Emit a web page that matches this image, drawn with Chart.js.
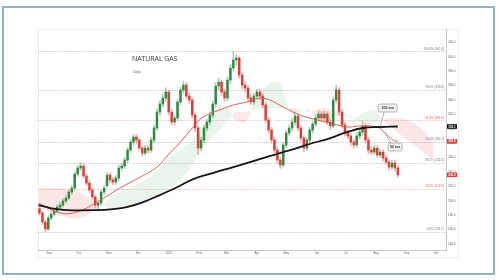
<!DOCTYPE html>
<html>
<head>
<meta charset="utf-8">
<script src="https://cdn.jsdelivr.net/npm/chart.js@4.4.1/dist/chart.umd.min.js"></script>
<style>
  html, body { margin: 0; padding: 0; background: #fff; }
  #frame { position: absolute; left: 2px; top: 6px; width: 493px; height: 269px; border: 2px solid #93b3bb; box-sizing: border-box; }
  #wrap { position: absolute; left: 0; top: 0; width: 500px; height: 280px; }
</style>
</head>
<body>
<div id="frame"></div>
<div id="wrap"><canvas id="chart" width="500" height="280"></canvas></div>
<script>
// x axis = days since 1 Sep 2024, one candle every 3 days
const firstDay = -10, dayStep = 3;

const monthDays = [0, 30, 61, 91, 122, 153, 181, 212, 242, 273, 303, 334, 365, 395];
const monthLabels = ['Sep', 'Oct', 'Nov', 'Dec', '2025', 'Feb', 'Mar', 'Apr', 'May', 'Jun', 'Jul', 'Aug', 'Sep', 'Oct'];
const yTicks = [140, 160, 180, 200, 220, 240, 260, 280, 300, 320, 340, 360, 380, 400, 420];

const opens = [189.0, 182.9, 170.4, 160.7, 176.0, 181.5, 185.7, 191.2, 194.0, 199.6,
    203.7, 212.1, 217.6, 237.1, 245.4, 248.2, 234.3, 224.6, 214.9, 205.1,
    194.0, 196.8, 212.1, 221.0, 235.7, 228.8, 226.0, 231.5, 245.4, 248.2,
    256.5, 270.4, 281.5, 288.5, 284.3, 273.2, 266.2, 273.2, 270.4, 284.3,
    301.0, 323.2, 334.3, 342.6, 351.0, 323.2, 309.3, 314.9, 337.1, 353.8,
    360.7, 345.4, 339.9, 319.0, 301.0, 273.2, 284.3, 301.0, 309.3, 319.0,
    334.3, 359.3, 364.9, 351.0, 342.6, 367.6, 384.3, 395.4, 398.2, 374.6,
    360.7, 356.5, 342.6, 337.1, 345.4, 351.0, 345.4, 332.9, 312.1, 298.2,
    284.3, 270.4, 256.5, 249.6, 277.4, 294.0, 301.0, 309.3, 317.6, 301.0,
    287.1, 273.2, 284.3, 298.2, 306.5, 314.9, 320.4, 314.9, 320.4, 309.3,
    303.8, 339.9, 353.8, 323.2, 305.1, 294.0, 289.9, 281.5, 277.4, 289.9,
    295.4, 303.8, 284.3, 270.4, 267.6, 273.2, 263.5, 267.6, 259.3, 253.7,
    246.8, 252.4, 245.4];
const highs = [192, 185, 173, 179, 185, 189, 194, 198, 203, 207,
    215, 221, 240, 249, 253, 251, 237, 228, 218, 208,
    200, 215, 221, 239, 239, 232, 235, 249, 252, 260,
    274, 285, 292, 292, 287, 276, 277, 277, 288, 305,
    328, 339, 347, 357, 354, 327, 319, 341, 358, 366,
    364, 350, 343, 322, 304, 288, 305, 313, 323, 339,
    364, 370, 368, 355, 372, 389, 407.4, 403, 401, 378,
    365, 360, 347, 349, 355, 355, 349, 336, 316, 302,
    288, 274, 260, 281, 298, 305, 314, 323, 321, 304,
    290, 288, 302, 310, 319, 325, 324, 325, 324, 313,
    344, 360, 357, 327, 309, 298, 293, 285, 294, 300,
    310, 307, 288, 275, 277, 277, 271, 271, 263, 257,
    256, 256, 249];
const lows = [180, 167, 156.7, 158, 173, 179, 183, 188, 191, 197,
    201, 209, 215, 234, 242, 231, 221, 211, 202, 190,
    188, 194, 209, 218, 225, 222, 223, 228, 242, 245,
    253, 267, 278, 280, 269, 262, 263, 266, 267, 281,
    298, 319, 330, 338, 319, 305, 305, 311, 333, 349,
    341, 335, 315, 296, 264, 269, 281, 297, 305, 315,
    330, 354, 346, 338, 339, 363, 380, 388, 370, 356,
    351, 338, 333, 333, 341, 341, 329, 308, 294, 280,
    266, 252, 245, 247, 274, 290, 297, 305, 297, 283,
    268, 270, 281, 294, 303, 311, 311, 311, 305, 299,
    301, 336, 319, 301, 290, 286, 277, 273, 274, 286,
    292, 280, 266, 264, 264, 260, 260, 255, 250, 243,
    243, 241, 233];
const closes = [182.9, 170.4, 160.7, 176.0, 181.5, 185.7, 191.2, 194.0, 199.6, 203.7,
    212.1, 217.6, 237.1, 245.4, 248.2, 234.3, 224.6, 214.9, 205.1, 194.0,
    196.8, 212.1, 217.6, 235.7, 228.8, 226.0, 231.5, 245.4, 248.2, 256.5,
    270.4, 281.5, 288.5, 284.3, 273.2, 266.2, 273.2, 270.4, 284.3, 301.0,
    323.2, 334.3, 342.6, 351.0, 323.2, 309.3, 314.9, 337.1, 353.8, 360.7,
    345.4, 339.9, 319.0, 301.0, 273.2, 284.3, 301.0, 309.3, 319.0, 334.3,
    359.3, 364.9, 351.0, 342.6, 367.6, 384.3, 395.4, 398.2, 374.6, 360.7,
    356.5, 342.6, 337.1, 345.4, 351.0, 345.4, 332.9, 312.1, 298.2, 284.3,
    270.4, 256.5, 249.6, 277.4, 294.0, 301.0, 309.3, 317.6, 301.0, 287.1,
    273.2, 284.3, 298.2, 306.5, 314.9, 320.4, 314.9, 320.4, 309.3, 303.8,
    339.9, 353.8, 323.2, 305.1, 294.0, 289.9, 281.5, 277.4, 289.9, 295.4,
    303.8, 284.3, 270.4, 267.6, 273.2, 263.5, 267.6, 259.3, 253.7, 246.8,
    252.4, 245.4, 236.0];

const ma50Days = [-11, 11, 28, 49, 72, 93, 110, 123, 134, 147, 157, 174, 188, 202, 215, 225, 239, 256, 274, 287, 304, 317, 335, 343, 351, 356];
const ma50Values = [196.8, 182.9, 184.3, 198.2, 217.6, 232.9, 246.8, 266.2, 281.5, 302.4, 316.3, 326.0, 332.9, 337.1, 342.6, 339.9, 330.1, 319.0, 312.1, 307.9, 302.4, 303.8, 302.4, 294.0, 284.3, 282.5];

const ma200Days = [-11, 1, 18, 49, 65, 79, 96, 113, 131, 147, 167, 188, 205, 225, 246, 266, 287, 304, 320, 338, 356];
const ma200Values = [194.0, 189.9, 187.1, 187.1, 188.5, 191.2, 198.2, 207.9, 219.0, 230.1, 238.5, 246.8, 253.7, 262.1, 270.4, 278.8, 287.1, 295.4, 301.0, 302.4, 303.1];

// ichimoku cloud, already shifted forward
const cloudDays = [-11, 1, 13, 26, 37, 47, 55, 64, 77, 93, 103, 113, 123, 134, 144, 154, 164, 174, 183, 190, 200, 207, 217, 228, 236, 243, 249, 256, 264, 271, 282, 290, 302, 312, 323, 333, 343, 353, 363, 374, 384, 392];
const spanA = [191.2, 184.3, 178.8, 174.6, 178.8, 187.1, 195.4, 206.5, 214.9, 224.6, 232.9, 245.4, 259.3, 270.4, 280.2, 298.2, 319.0, 332.9, 328.8, 312.1, 306.5, 328.8, 353.8, 364.9, 364.9, 332.9, 317.6, 323.2, 328.8, 317.6, 305.1, 314.9, 320.4, 314.9, 323.2, 326.0, 309.3, 298.2, 287.1, 276.0, 264.9, 259.3];
const spanB = [217.6, 217.6, 217.6, 214.9, 207.9, 196.8, 192.6, 189.9, 191.2, 195.4, 201.0, 207.9, 217.6, 228.8, 245.4, 270.4, 284.3, 298.2, 314.9, 323.2, 323.2, 326.0, 328.8, 328.8, 328.8, 328.8, 328.8, 326.0, 323.2, 326.0, 328.8, 326.0, 317.6, 312.1, 306.5, 306.5, 313.5, 314.9, 313.5, 306.5, 295.4, 281.5];

const fibNames = ['100.0%', '78.6%', '61.8%', '50.0%', '38.2%', '23.6%', '0.0%'];
const fibValues = [407.4, 353.8, 311.6, 282.1, 252.5, 215.9, 156.7];
const fibRed = [false, false, true, false, false, true, false];

const GREEN = '#2e8b3e', RED = '#e53935';
const candleDays = closes.map((c, i) => firstDay + i * dayStep);
const up = closes.map((c, i) => c >= opens[i]);
const last = closes.length - 1;

const pts = (xs, ys) => xs.map((x, i) => ({ x: x, y: ys[i] }));

function tag(ctx, x, y, w, h, bg, txt) {
    ctx.fillStyle = bg;
    ctx.fillRect(x, y - h / 2, w, h);
    ctx.fillStyle = '#fff';
    ctx.font = 'bold 3px "Liberation Sans"';
    ctx.textAlign = 'center';
    ctx.textBaseline = 'middle';
    ctx.fillText(txt, x + w / 2, y + 0.3);
}

function callout(ctx, px, py, cx, cy, w, h, lx, ly, txt) {
    ctx.strokeStyle = '#8c8c8c';
    ctx.lineWidth = 0.7;
    ctx.beginPath();
    ctx.moveTo(px, py);
    ctx.lineTo(lx, ly);
    ctx.stroke();
    ctx.fillStyle = '#f1f1f1';
    ctx.strokeStyle = '#9a9a9a';
    ctx.beginPath();
    ctx.roundRect(cx - w / 2, cy - h / 2, w, h, 1.5);
    ctx.fill();
    ctx.stroke();
    ctx.fillStyle = '#333';
    ctx.font = 'bold 3.6px "Liberation Sans"';
    ctx.textAlign = 'center';
    ctx.textBaseline = 'middle';
    ctx.fillText(txt, cx, cy + 0.3);
}

const overlay = {
    id: 'overlay',
    beforeDraw(chart) {
        const { ctx, chartArea: a } = chart;
        ctx.save();
        ctx.strokeStyle = '#efefef';
        ctx.lineWidth = 1;
        ctx.strokeRect(a.left + 0.5, a.top + 0.5, a.right - a.left + 12, a.bottom - a.top + 7);
        ctx.restore();
    },
    beforeDatasetsDraw(chart) {
        const { ctx, chartArea: a, scales: { y } } = chart;
        ctx.save();
        ctx.lineWidth = 0.8;
        ctx.setLineDash([1, 1.4]);
        fibValues.forEach((v, i) => {
            let py = Math.round(y.getPixelForValue(v)) + 0.5;
            ctx.strokeStyle = fibRed[i] ? '#f0a3a3' : '#a9a9a9';
            ctx.beginPath();
            ctx.moveTo(a.left, py);
            ctx.lineTo(a.right, py);
            ctx.stroke();
        });
        ctx.restore();
    },
    afterDraw(chart) {
        const { ctx, chartArea: a, scales: { x, y } } = chart;
        ctx.save();

        // fib labels
        ctx.font = '3px "Liberation Sans"';
        ctx.textAlign = 'right';
        ctx.textBaseline = 'bottom';
        fibValues.forEach((v, i) => {
            ctx.fillStyle = fibRed[i] ? '#e06666' : '#777';
            ctx.fillText(fibNames[i] + ' (' + v.toFixed(1) + ')', a.right - 2, y.getPixelForValue(v) - 1.2);
        });

        // title, squeezed a little like the narrow original font
        ctx.save();
        ctx.translate(132, 59);
        ctx.scale(0.86, 1);
        ctx.fillStyle = '#333';
        ctx.textAlign = 'left';
        ctx.textBaseline = 'middle';
        ctx.font = '8px "Open Sans"';
        ctx.fillText('NATURAL GAS', 0, 0);
        ctx.restore();
        ctx.fillStyle = '#666';
        ctx.textAlign = 'left';
        ctx.textBaseline = 'middle';
        ctx.font = '3.5px "Liberation Sans"';
        ctx.fillText('Daily', 133, 72);

        // moving average callouts
        let p200x = x.getPixelForValue(ma200Days[19]), p200y = y.getPixelForValue(ma200Values[19]);
        callout(ctx, p200x, p200y, p200x + 7.5, p200y - 19, 19, 8, p200x + 4, p200y - 15, '200 ma');
        let p50x = x.getPixelForValue(ma50Days[23]), p50y = y.getPixelForValue(ma50Values[23]);
        callout(ctx, p50x, p50y, p50x + 10, p50y + 14, 14, 8, p50x + 6, p50y + 10, '50 ma');

        // price scale tags
        tag(ctx, a.right + 1, y.getPixelForValue(ma200Values[ma200Values.length - 1]), 10, 4.6, '#111', ma200Values[ma200Values.length - 1].toFixed(1));
        tag(ctx, a.right + 1, y.getPixelForValue(ma50Values[ma50Values.length - 1]), 10, 4.6, RED, ma50Values[ma50Values.length - 1].toFixed(1));
        tag(ctx, a.right + 1, y.getPixelForValue(closes[last]), 10, 4.6, RED, closes[last].toFixed(1));

        ctx.restore();
    }
};

new Chart(document.getElementById('chart'), {
    type: 'bar',
    data: {
        datasets: [
            {
                type: 'line',
                label: 'span A',
                data: pts(cloudDays, spanA),
                borderColor: 'rgba(0,0,0,0)',
                borderWidth: 0,
                pointRadius: 0,
                fill: { target: '+1', above: 'rgba(102,187,106,0.14)', below: 'rgba(239,83,80,0.14)' },
                order: 10
            },
            {
                type: 'line',
                label: 'span B',
                data: pts(cloudDays, spanB),
                borderColor: 'rgba(0,0,0,0)',
                borderWidth: 0,
                pointRadius: 0,
                fill: false,
                order: 11
            },
            {
                label: 'wicks',
                data: candleDays.map((d, i) => ({ x: d, y: [lows[i], highs[i]] })),
                backgroundColor: c => up[c.dataIndex] ? 'rgba(46,139,62,0.4)' : 'rgba(229,57,53,0.4)',
                barThickness: 1,
                grouped: false,
                order: 6
            },
            {
                label: 'bodies',
                data: candleDays.map((d, i) => ({ x: d, y: [opens[i], closes[i]] })),
                backgroundColor: c => up[c.dataIndex] ? GREEN : RED,
                barThickness: 1.8,
                minBarLength: 1,
                grouped: false,
                order: 5
            },
            {
                type: 'line',
                label: '50 ma',
                data: pts(ma50Days, ma50Values),
                borderColor: '#e0504a',
                borderWidth: 0.9,
                pointRadius: 0,
                tension: 0.4,
                order: 2
            },
            {
                type: 'line',
                label: '200 ma',
                data: pts(ma200Days, ma200Values),
                borderColor: '#151515',
                borderWidth: 1.8,
                pointRadius: 0,
                tension: 0.4,
                order: 1
            }
        ]
    },
    options: {
        responsive: false,
        animation: false,
        layout: { padding: { left: 38, top: 29, right: 42, bottom: 23 } },
        plugins: { legend: { display: false }, tooltip: { enabled: false } },
        scales: {
            x: {
                type: 'linear',
                min: -11.5,
                max: 405.2,
                offset: false,
                grid: { display: false, drawTicks: false },
                border: { color: '#c8c8c8' },
                afterBuildTicks: s => { s.ticks = monthDays.map(v => ({ value: v })); },
                afterFit: s => { s.height = 7; },
                ticks: {
                    font: { size: 3, family: 'Liberation Sans' },
                    color: '#666',
                    padding: 1.5,
                    maxRotation: 0,
                    autoSkip: false,
                    callback: (v, i) => monthLabels[i]
                }
            },
            y: {
                position: 'right',
                min: 131.6,
                max: 438.5,
                grid: { display: false, drawTicks: false },
                border: { color: '#c8c8c8' },
                afterBuildTicks: s => { s.ticks = yTicks.map(v => ({ value: v })); },
                afterFit: s => { s.width = 12; },
                ticks: {
                    font: { size: 3, family: 'Liberation Sans' },
                    color: '#666',
                    padding: 2,
                    callback: v => v.toFixed(1)
                }
            }
        }
    },
    plugins: [overlay]
});
</script>
</body>
</html>
